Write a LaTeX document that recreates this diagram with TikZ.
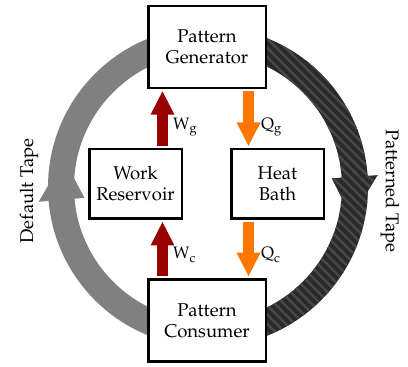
\documentclass[tikz,border=0pt]{standalone}
\usepackage[T1]{fontenc}
\usepackage{mathpazo}
\usetikzlibrary{arrows.meta,calc}
\definecolor{tapegray}{HTML}{808080}
\definecolor{tapedark}{HTML}{2A2A2A}
\definecolor{tapestripe}{HTML}{484848}
\definecolor{workred}{HTML}{990000}
\definecolor{heatorange}{HTML}{FF7700}
\newcommand{\flowlabel}[2]{#1\raisebox{-0.22em}{\fontsize{13}{13}\selectfont #2}}
\newcommand{\tapestripes}{\foreach \s in {200,209.2,...,730} {\draw[tapestripe, line width=2.4pt] (\s,0) -- (\s-400,400);}}
\begin{document}
\begin{tikzpicture}[x=1pt,y=1pt,
  box/.style={draw=black, line width=2.5pt, fill=white, align=center, font=\fontsize{18.5}{21}\selectfont, inner sep=0pt},
  bigbox/.style={box, minimum width=117.5pt, minimum height=82pt},
  smallbox/.style={box, minimum width=92.5pt, minimum height=69.5pt},
  flow/.style={line width=11pt, -{Triangle[width=22pt,length=24pt]}, shorten <=2pt, shorten >=1.5pt},
  work/.style={flow, draw=workred},
  heat/.style={flow, draw=heatorange},
  lbl/.style={font=\fontsize{16.5}{19}\selectfont, inner sep=0pt, anchor=west},
  tapelbl/.style={font=\fontsize{18.5}{21}\selectfont, inner sep=0pt}]
\useasboundingbox (0,0) rectangle (408,367);
\coordinate (c) at (208,180);
% default tape (gray)
\draw[tapegray, line width=26pt] ($(c)+(90:147)$) arc[start angle=90,end angle=270,radius=147];
\fill[tapegray] ($(c)+(185:124)$) -- ($(c)+(169:147)$) -- ($(c)+(185:170)$) -- cycle;
% patterned tape (dark, striped)
\begin{scope}
  \path[clip] ($(c)+(90:160)$) arc[start angle=90,end angle=-90,radius=160]
    -- ($(c)+(-90:134)$) arc[start angle=-90,end angle=90,radius=134] -- cycle;
  \fill[tapedark] (190,0) rectangle (408,367);
  \tapestripes
\end{scope}
\begin{scope}
  \path[clip] ($(c)+(4:124)$) -- ($(c)+(-12:147)$) -- ($(c)+(4:170)$) -- cycle;
  \fill[tapedark] (190,0) rectangle (408,367);
  \tapestripes
\end{scope}
% boxes
\node[bigbox] (pg) at (207,320) {Pattern\\Generator};
\node[bigbox] (pc) at (207,46.5) {Pattern\\Consumer};
\node[smallbox] (wr) at (135.5,183) {Work\\Reservoir};
\node[smallbox] (hb) at (277.5,183) {Heat\\Bath};
% flows
\coordinate (wgx) at ([xshift=27pt]wr.north);
\draw[work] (wgx) -- (wgx |- pg.south);
\coordinate (wcx) at ([xshift=27pt]wr.south);
\draw[work] (wcx |- pc.north) -- (wcx);
\coordinate (qgx) at ([xshift=-29pt]hb.north);
\draw[heat] (qgx |- pg.south) -- (qgx);
\coordinate (qcx) at ([xshift=-29pt]hb.south);
\draw[heat] (qcx) -- (qcx |- pc.north);
% labels
\node[lbl] (wgl) at (173,240) {\flowlabel{W}{g}};
\node[lbl] (wcl) at (173,112) {\flowlabel{W}{c}};
\node[lbl] (qgl) at (261,240) {\flowlabel{Q}{g}};
\node[lbl] (qcl) at (261,112) {\flowlabel{Q}{c}};
\node[tapelbl, rotate=90] (dtl) at (29,176) {Default Tape};
\node[tapelbl, rotate=-90] (ptl) at (390,176) {Patterned Tape};
\end{tikzpicture}
\end{document}
